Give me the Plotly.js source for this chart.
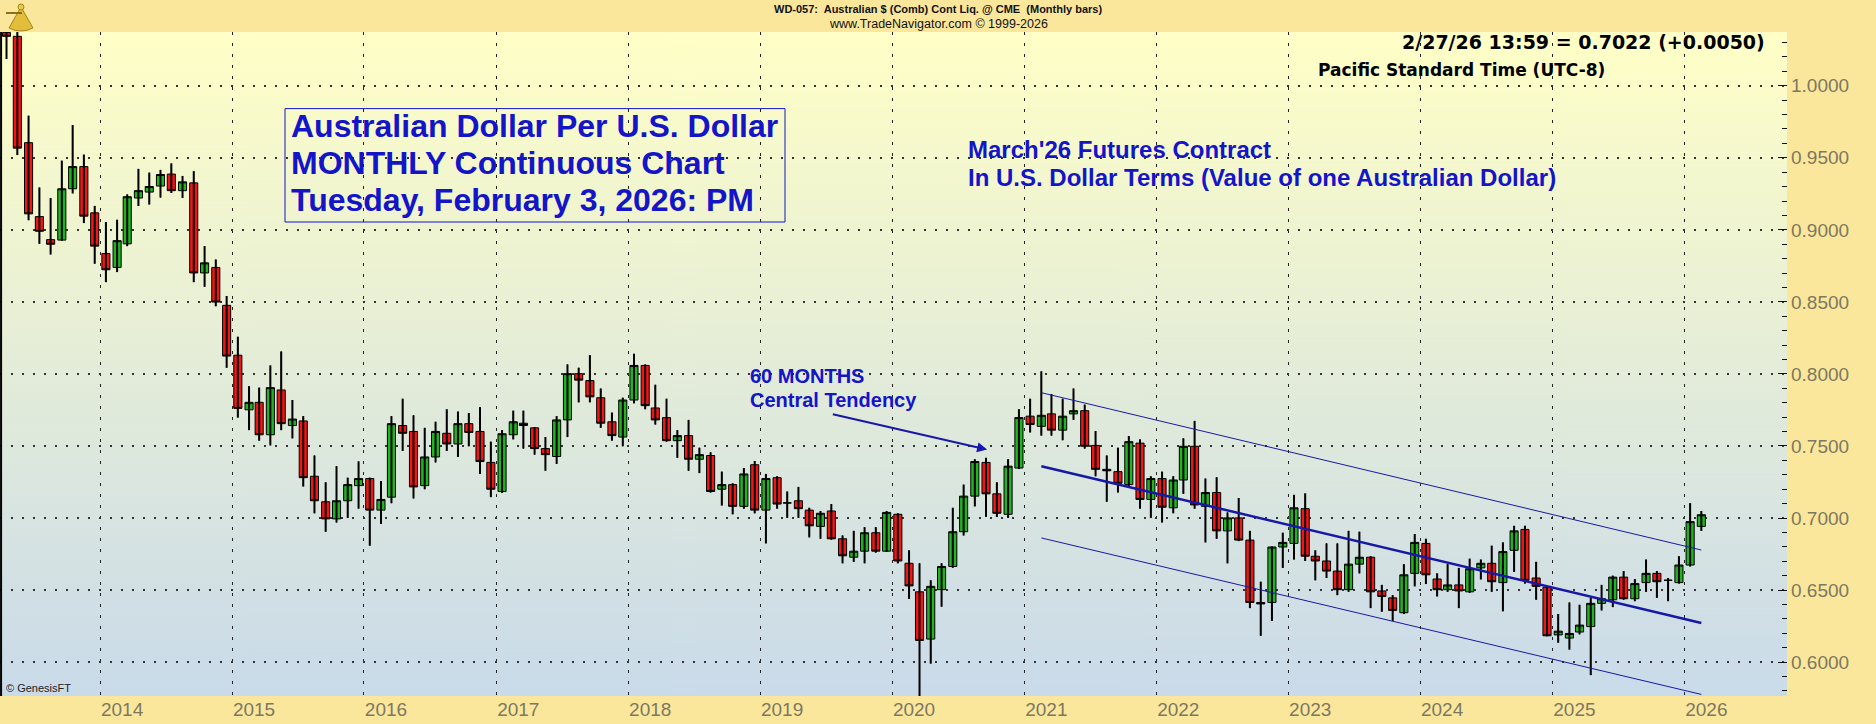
<!DOCTYPE html>
<html>
<head>
<meta charset="utf-8">
<script src="https://cdn.plot.ly/plotly-3.0.1.min.js"></script>
<style>
html,body{margin:0;padding:0;background:#FBE79C;}
#chart{width:1876px;height:724px;}
</style>
</head>
<body>
<div id="chart"></div>
<script>
// ---------------- DATA (monthly bars, AUD futures continuous) ----------------
const months = [
  '2013-04','2013-05','2013-06','2013-07','2013-08','2013-09','2013-10','2013-11','2013-12',
  '2014-01','2014-02','2014-03','2014-04','2014-05','2014-06','2014-07','2014-08','2014-09','2014-10','2014-11','2014-12',
  '2015-01','2015-02','2015-03','2015-04','2015-05','2015-06','2015-07','2015-08','2015-09','2015-10','2015-11','2015-12',
  '2016-01','2016-02','2016-03','2016-04','2016-05','2016-06','2016-07','2016-08','2016-09','2016-10','2016-11','2016-12',
  '2017-01','2017-02','2017-03','2017-04','2017-05','2017-06','2017-07','2017-08','2017-09','2017-10','2017-11','2017-12',
  '2018-01','2018-02','2018-03','2018-04','2018-05','2018-06','2018-07','2018-08','2018-09','2018-10','2018-11','2018-12',
  '2019-01','2019-02','2019-03','2019-04','2019-05','2019-06','2019-07','2019-08','2019-09','2019-10','2019-11','2019-12',
  '2020-01','2020-02','2020-03','2020-04','2020-05','2020-06','2020-07','2020-08','2020-09','2020-10','2020-11','2020-12',
  '2021-01','2021-02','2021-03','2021-04','2021-05','2021-06','2021-07','2021-08','2021-09','2021-10','2021-11','2021-12',
  '2022-01','2022-02','2022-03','2022-04','2022-05','2022-06','2022-07','2022-08','2022-09','2022-10','2022-11','2022-12',
  '2023-01','2023-02','2023-03','2023-04','2023-05','2023-06','2023-07','2023-08','2023-09','2023-10','2023-11','2023-12',
  '2024-01','2024-02','2024-03','2024-04','2024-05','2024-06','2024-07','2024-08','2024-09','2024-10','2024-11','2024-12',
  '2025-01','2025-02','2025-03','2025-04','2025-05','2025-06','2025-07','2025-08','2025-09','2025-10','2025-11','2025-12',
  '2026-01','2026-02'
];

const openPrices = [
  1.0369,1.0343,0.9605,0.9092,0.8932,0.8929,0.9285,0.9439,0.9118,
  0.8836,0.8739,0.8903,0.9221,0.9262,0.9304,0.9387,0.9272,0.9326,0.8701,0.8739,0.8476,
  0.8130,0.7751,0.7803,0.7578,0.7889,0.7642,0.7674,0.7290,0.7113,0.6994,0.7120,0.7225,
  0.7274,0.7055,0.7145,0.7642,0.7601,0.7225,0.7424,0.7588,0.7514,0.7655,0.7601,0.7386,
  0.7184,0.7578,0.7658,0.7626,0.7482,0.7427,0.7681,0.8002,0.7954,0.7835,0.7668,0.7562,
  0.7819,0.8059,0.7764,0.7697,0.7537,0.7572,0.7408,0.7434,0.7200,0.7232,0.7081,0.7370,
  0.7055,0.7280,0.7105,0.7120,0.7055,0.6942,0.7049,0.6856,0.6728,0.6770,0.6898,0.6770,
  0.7026,0.6686,0.6488,0.6160,0.6503,0.6664,0.6905,0.7152,0.7386,0.7168,0.7026,0.7347,
  0.7707,0.7636,0.7723,0.7610,0.7723,0.7745,0.7504,0.7338,0.7322,0.7232,0.7520,0.7129,
  0.7274,0.7071,0.7264,0.7498,0.7081,0.7177,0.6911,0.7001,0.6847,0.6414,0.6414,0.6799,
  0.6824,0.7065,0.6735,0.6702,0.6632,0.6503,0.6680,0.6728,0.6494,0.6446,0.6343,0.6616,
  0.6824,0.6577,0.6503,0.6536,0.6488,0.6654,0.6686,0.6552,0.6776,0.6921,0.6584,0.6520,
  0.6189,0.6167,0.6209,0.6247,0.6408,0.6433,0.6590,0.6440,0.6552,0.6616,0.6568,0.6552,
  0.6674,0.6942
];

const highPrices = [
  1.0600,1.0390,0.9792,0.9294,0.9221,0.9480,0.9727,0.9522,0.9166,
  0.9054,0.9070,0.9246,0.9423,0.9397,0.9416,0.9461,0.9374,0.9407,0.8887,0.8794,0.8541,
  0.8258,0.7915,0.7905,0.8059,0.8156,0.7819,0.7707,0.7434,0.7248,0.7360,0.7280,0.7393,
  0.7280,0.7257,0.7707,0.7828,0.7713,0.7626,0.7668,0.7755,0.7739,0.7729,0.7771,0.7530,
  0.7610,0.7745,0.7745,0.7630,0.7562,0.7707,0.8066,0.8043,0.8130,0.7899,0.7732,0.7835,
  0.8140,0.8066,0.7925,0.7828,0.7610,0.7681,0.7488,0.7456,0.7322,0.7241,0.7347,0.7396,
  0.7306,0.7290,0.7184,0.7216,0.7071,0.7049,0.7097,0.6879,0.6911,0.6937,0.6937,0.7049,
  0.7033,0.6776,0.6686,0.6568,0.6686,0.7071,0.7232,0.7408,0.7418,0.7248,0.7408,0.7755,
  0.7828,0.8018,0.7861,0.7828,0.7899,0.7787,0.7604,0.7434,0.7488,0.7569,0.7546,0.7290,
  0.7322,0.7290,0.7553,0.7674,0.7274,0.7283,0.7039,0.7139,0.6911,0.6558,0.6802,0.6898,
  0.7161,0.7171,0.6776,0.6824,0.6824,0.6911,0.6905,0.6735,0.6536,0.6465,0.6680,0.6889,
  0.6856,0.6616,0.6680,0.6654,0.6718,0.6712,0.6808,0.6831,0.6946,0.6946,0.6696,0.6526,
  0.6334,0.6414,0.6398,0.6446,0.6536,0.6600,0.6632,0.6577,0.6712,0.6632,0.6584,0.6735,
  0.7103,0.7049
];

const lowPrices = [
  1.0186,0.9519,0.9067,0.8903,0.8829,0.8925,0.9253,0.9047,0.8765,
  0.8637,0.8707,0.8887,0.9166,0.9176,0.9224,0.9256,0.9221,0.8637,0.8605,0.8470,0.8043,
  0.7697,0.7610,0.7537,0.7504,0.7610,0.7553,0.7219,0.7033,0.6905,0.6969,0.7001,0.7065,
  0.6808,0.6959,0.7103,0.7466,0.7136,0.7200,0.7386,0.7466,0.7424,0.7498,0.7306,0.7145,
  0.7175,0.7546,0.7482,0.7440,0.7328,0.7376,0.7562,0.7803,0.7803,0.7626,0.7537,0.7498,
  0.7796,0.7755,0.7649,0.7530,0.7418,0.7328,0.7312,0.7177,0.7087,0.7026,0.7065,0.7033,
  0.6824,0.7065,0.7001,0.7001,0.6866,0.6856,0.6850,0.6686,0.6696,0.6686,0.6760,0.6765,
  0.6686,0.6439,0.5510,0.5990,0.6385,0.6655,0.6879,0.7081,0.7007,0.7007,0.7001,0.7340,
  0.7594,0.7572,0.7572,0.7540,0.7681,0.7482,0.7290,0.7113,0.7177,0.7209,0.7065,0.7001,
  0.6969,0.7033,0.7168,0.7065,0.6831,0.6856,0.6686,0.6840,0.6375,0.6183,0.6286,0.6654,
  0.6712,0.6702,0.6568,0.6584,0.6465,0.6488,0.6616,0.6375,0.6350,0.6286,0.6334,0.6526,
  0.6542,0.6456,0.6488,0.6375,0.6481,0.6574,0.6488,0.6353,0.6626,0.6545,0.6433,0.6180,
  0.6135,0.6087,0.6193,0.5910,0.6359,0.6382,0.6433,0.6423,0.6488,0.6446,0.6423,0.6545,
  0.6664,0.6911
];

const closePrices = [
  1.0343,0.9567,0.9111,0.8990,0.8900,0.9285,0.9439,0.9095,0.8887,
  0.8723,0.8925,0.9230,0.9272,0.9301,0.9384,0.9272,0.9333,0.8701,0.8771,0.8499,0.8124,
  0.7761,0.7803,0.7578,0.7905,0.7655,0.7687,0.7280,0.7120,0.6994,0.7120,0.7232,0.7274,
  0.7055,0.7129,0.7655,0.7588,0.7216,0.7424,0.7601,0.7514,0.7655,0.7594,0.7392,0.7200,
  0.7585,0.7668,0.7642,0.7482,0.7440,0.7681,0.8002,0.7957,0.7841,0.7658,0.7572,0.7819,
  0.8059,0.7780,0.7681,0.7537,0.7572,0.7408,0.7440,0.7184,0.7232,0.7081,0.7306,0.7055,
  0.7274,0.7097,0.7105,0.7065,0.6946,0.7033,0.6856,0.6738,0.6770,0.6898,0.6770,0.7039,
  0.6702,0.6529,0.6151,0.6526,0.6664,0.6905,0.7152,0.7392,0.7168,0.7033,0.7360,0.7697,
  0.7649,0.7713,0.7610,0.7707,0.7745,0.7498,0.7338,0.7328,0.7241,0.7530,0.7129,0.7274,
  0.7075,0.7264,0.7498,0.7091,0.7177,0.6911,0.7001,0.6847,0.6414,0.6404,0.6799,0.6831,
  0.7071,0.6735,0.6702,0.6632,0.6503,0.6680,0.6728,0.6488,0.6456,0.6359,0.6606,0.6831,
  0.6606,0.6503,0.6536,0.6494,0.6648,0.6686,0.6558,0.6767,0.6911,0.6568,0.6526,0.6183,
  0.6215,0.6199,0.6257,0.6408,0.6440,0.6590,0.6440,0.6545,0.6616,0.6558,0.6568,0.6674,
  0.6975,0.7023
];

const yearTickLabels = ['2014','2015','2016','2017','2018','2019','2020','2021','2022','2023','2024','2025','2026'];

// 60-month central tendency channel (start / end months)
const channelMonths = ['2021-02','2026-02'];
const channelCenter = [0.7360, 0.6272];
const channelUpper  = [0.7870, 0.6778];
const channelLower  = [0.6862, 0.5776];

// arrow of the "60 MONTHS Central Tendency" note (tail -> head)
const arrowDates  = ['2019-07-17','2020-09-20'];
const arrowValues = [0.7722, 0.7475];

// ---------------- STYLE / GEOMETRY ----------------
const BLUE = '#1414C8';
const LINEBLUE = '#1818A8';
const AXIS_GREY = '#7D7860';
const FONT = 'Liberation Sans, Arial, sans-serif';
const FONT_WIDE = 'DejaVu Sans, Verdana, sans-serif';

const W = 1787, T = 32, H = 664;              // plot area in pixels
const px = v => v / W;                         // pixel -> paper x
const py = v => (T + H - v) / H;               // pixel -> paper y

const xDates = months.map(m => m + '-17');

// wick segments (drawn thicker than the body outline)
const wickX = [], wickY = [];
xDates.forEach((d, i) => { wickX.push(d, d, null); wickY.push(highPrices[i], lowPrices[i], null); });

// plot-area gradient (pale yellow -> pale blue)
const cv = document.createElement('canvas');
cv.width = 4; cv.height = 664;
const cx = cv.getContext('2d');
const g = cx.createLinearGradient(0, 0, 0, 664);
g.addColorStop(0, '#FFFFC6');
g.addColorStop(1, '#C9DAEA');
cx.fillStyle = g; cx.fillRect(0, 0, 4, 664);
const gradURL = cv.toDataURL('image/png');

const traces = [
  {type:'scatter', mode:'lines', x:wickX, y:wickY, line:{color:'#000', width:2}, hoverinfo:'skip', showlegend:false},
  {type:'candlestick', x:xDates, open:openPrices, high:highPrices, low:lowPrices, close:closePrices,
   increasing:{line:{color:'#000', width:1}, fillcolor:'#22B322'},
   decreasing:{line:{color:'#000', width:1}, fillcolor:'#F21515'},
   whiskerwidth:0, hoverinfo:'skip', showlegend:false},
  {type:'scatter', mode:'lines', x:channelMonths.map(m => m + '-17'), y:channelUpper, line:{color:LINEBLUE, width:1}, hoverinfo:'skip', showlegend:false},
  {type:'scatter', mode:'lines', x:channelMonths.map(m => m + '-17'), y:channelCenter, line:{color:LINEBLUE, width:2.5}, hoverinfo:'skip', showlegend:false},
  {type:'scatter', mode:'lines', x:channelMonths.map(m => m + '-17'), y:channelLower, line:{color:LINEBLUE, width:1}, hoverinfo:'skip', showlegend:false}
];

function txt(text, x, y, size, color, opts) {
  return Object.assign({
    text: text, xref:'paper', yref:'paper', x: px(x), y: py(y),
    xanchor:'left', yanchor:'middle', showarrow:false, borderpad:0,
    font:{family:FONT, size:size, color:color, weight:'bold'}
  }, opts || {});
}

const annotations = [
  txt('WD-057:  Australian $ (Comb) Cont Liq. @ CME  (Monthly bars)', 937.5, 9.5, 11, '#111', {xanchor:'center'}),
  txt('www.TradeNavigator.com © 1999-2026', 938.3, 24, 12.5, '#111', {xanchor:'center', font:{family:FONT, size:12.5, color:'#111', weight:'normal'}}),
  txt('2/27/26 13:59 = 0.7022 (+0.0050)', 1766, 42, 19, '#000', {xanchor:'right', font:{family:FONT_WIDE, size:19, color:'#000', weight:'bold'}}),
  txt('Pacific Standard Time (UTC-8)', 1316.7, 70, 17, '#000', {font:{family:FONT_WIDE, size:17, color:'#000', weight:'bold'}}),
  txt('Australian Dollar Per U.S. Dollar', 290, 126, 32, BLUE),
  txt('MONTHLY Continuous Chart', 290, 163, 32, BLUE),
  txt('Tuesday, February 3, 2026: PM', 290, 200, 32, BLUE),
  txt("March'26 Futures Contract", 966.7, 149, 24, BLUE),
  txt('In U.S. Dollar Terms (Value of one Australian Dollar)', 966.7, 178, 24, BLUE),
  txt('60 MONTHS', 749.3, 375.5, 20, BLUE),
  txt('Central Tendency', 749.3, 400, 20, BLUE),
  txt('© GenesisFT', 5, 688, 11, '#222', {font:{family:FONT, size:11, color:'#222', weight:'normal'}}),
  {xref:'x', yref:'y', axref:'x', ayref:'y', x:arrowDates[1], y:arrowValues[1], ax:arrowDates[0], ay:arrowValues[0],
   text:'', showarrow:true, arrowhead:2, arrowsize:1, arrowwidth:2, arrowcolor:LINEBLUE, standoff:0, startstandoff:0}
];

// small golden sextant logo (top-left corner)
const logoPath = 'M ' + px(21) + ' ' + py(7) + ' L ' + px(9) + ' ' + py(28) +
                 ' Q ' + px(21) + ' ' + py(34) + ' ' + px(33) + ' ' + py(28) + ' Z';

const shapes = [
  {type:'rect', xref:'paper', yref:'paper', x0:px(285), x1:px(785), y0:py(222), y1:py(108.6),
   line:{color:BLUE, width:1}, fillcolor:'rgba(0,0,0,0)', layer:'above'},
  {type:'line', xref:'paper', yref:'paper', x0:0.0006, x1:0.0006, y0:0, y1:1, line:{color:'#000', width:2}},
  {type:'path', xref:'paper', yref:'paper', path:logoPath, fillcolor:'#E2BE3A', line:{color:'#A8841C', width:1}, layer:'above'},
  {type:'line', xref:'paper', yref:'paper', x0:px(6), x1:px(22), y0:py(13), y1:py(13), line:{color:'#8C6E1A', width:2}, layer:'above'},
  {type:'circle', xref:'paper', yref:'paper', x0:px(18), x1:px(24), y0:py(10), y1:py(4), fillcolor:'#E8C848', line:{color:'#A8841C', width:1}, layer:'above'}
];

const layout = {
  width:1876, height:724,
  margin:{l:0, r:1876 - W, t:T, b:724 - T - H, pad:0},
  paper_bgcolor:'#FBE79C', plot_bgcolor:'rgba(0,0,0,0)',
  showlegend:false,
  boxgap:0.2, boxgroupgap:0,
  xaxis:{
    type:'date', range:['2013-03-30','2026-10-12'],
    rangeslider:{visible:false},
    tickvals: yearTickLabels.map(y => y + '-01-01'),
    ticktext: yearTickLabels,
    ticks:'', showline:false, zeroline:false,
    showgrid:true, gridcolor:'#222', gridwidth:1, griddash:'3px,8px',
    tickfont:{family:FONT, size:19, color:AXIS_GREY},
    ticklabelshift:22, fixedrange:true
  },
  yaxis:{
    side:'right', range:[0.5765, 1.0373],
    tick0:0, dtick:0.05, tickformat:'.4f',
    ticks:'inside', ticklen:9, tickwidth:1, tickcolor:'#111',
    minor:{dtick:0.01, ticks:'inside', ticklen:5, tickwidth:1, tickcolor:'#111', showgrid:false},
    showgrid:true, gridcolor:'#333', gridwidth:1.5, griddash:'2px,9px',
    zeroline:false, showline:false,
    tickfont:{family:FONT, size:19, color:AXIS_GREY},
    ticklabelstandoff:3, fixedrange:true
  },
  images:[{source:gradURL, xref:'paper', yref:'paper', x:0, y:1, sizex:1, sizey:1,
           xanchor:'left', yanchor:'top', sizing:'stretch', layer:'below'}],
  shapes: shapes,
  annotations: annotations
};

Plotly.newPlot('chart', traces, layout, {staticPlot:true, displayModeBar:false});
</script>
</body>
</html>
